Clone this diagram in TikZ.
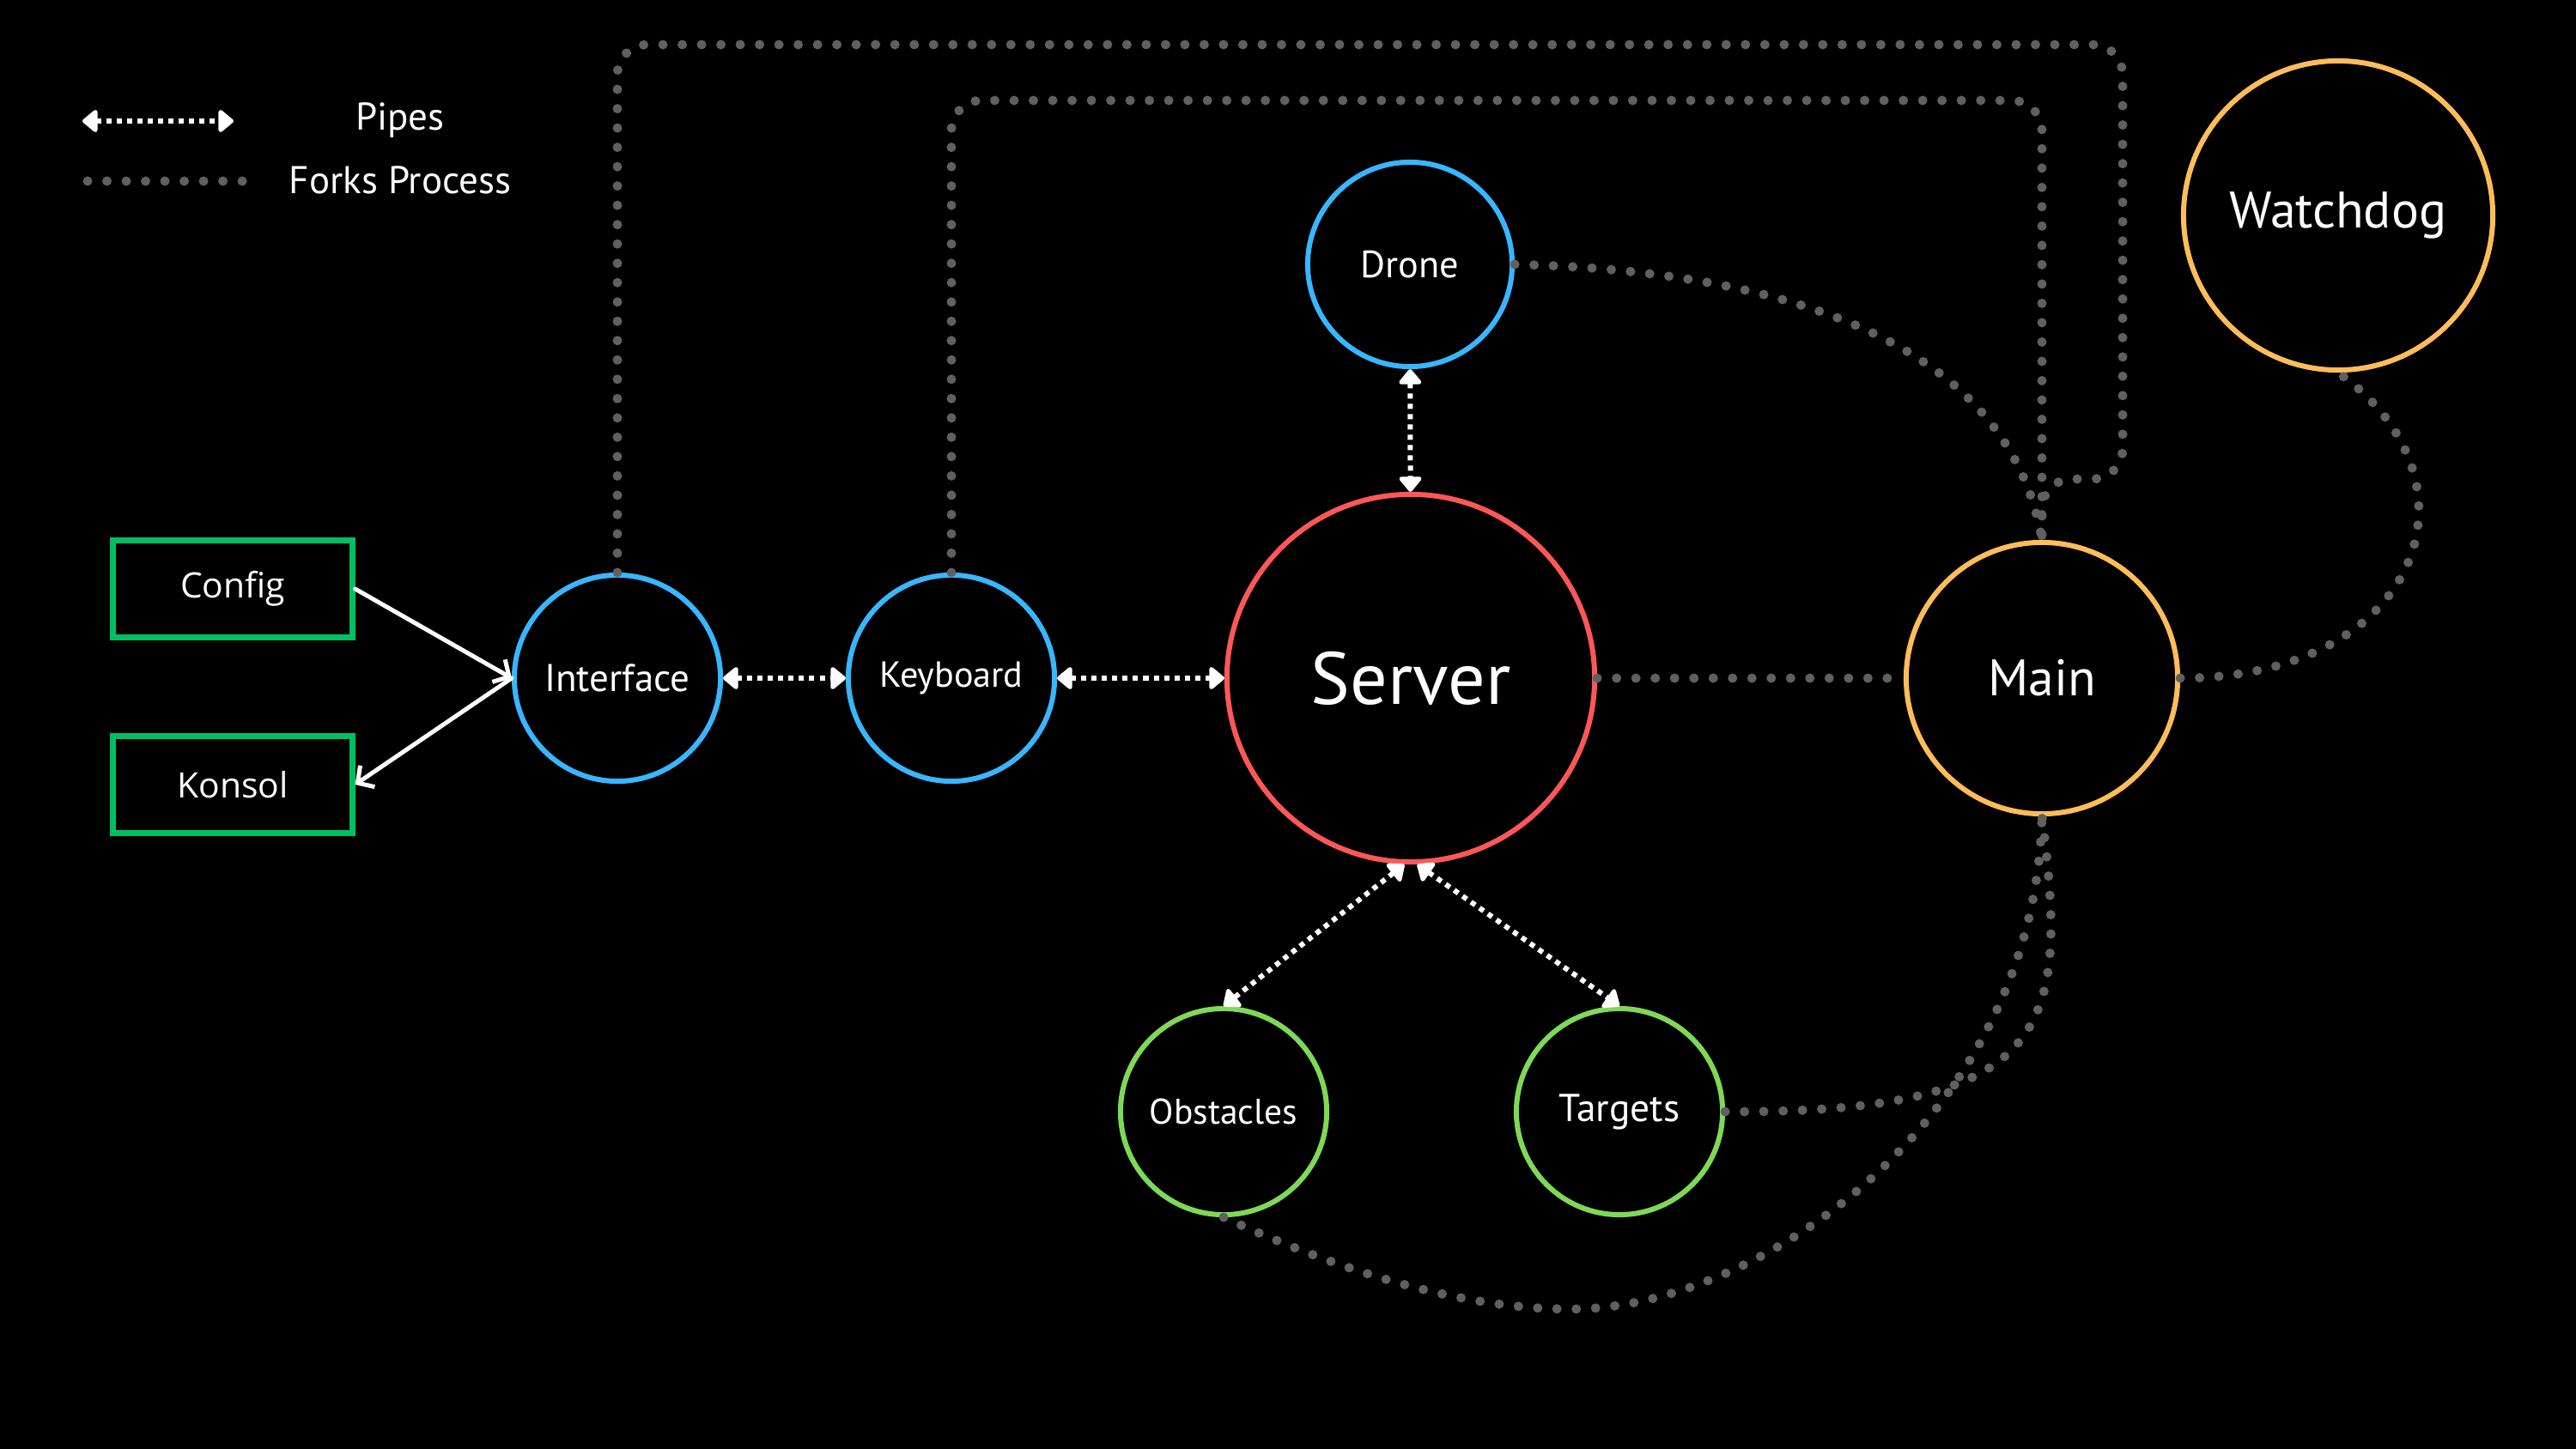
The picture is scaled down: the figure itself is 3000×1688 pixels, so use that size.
\documentclass[tikz,border=0pt]{standalone}
\usepackage{fontspec}
\setmainfont{PT Sans}
\newfontfamily\boxfont{Open Sans}
\usetikzlibrary{arrows.meta}

\definecolor{procblue}{HTML}{38B6FF}
\definecolor{serverred}{HTML}{FF5757}
\definecolor{mainorange}{HTML}{FFBD59}
\definecolor{childgreen}{HTML}{7ED957}
\definecolor{filegreen}{HTML}{00BF63}
\definecolor{forkgray}{HTML}{606060}

\tikzset{
    proc/.style={circle, draw, line width=0.06cm, text=white, inner sep=0pt},
    small proc/.style={proc, minimum size=2.4cm},
    file/.style={rectangle, draw=filegreen, line width=0.07cm, minimum width=2.78cm,
        minimum height=1.13cm, text=white, font=\boxfont\fontsize{11.6}{14}\selectfont},
    legend/.style={text=white, font=\fontsize{12.8}{15}\selectfont},
    pipe/.style={white, line width=0.06cm, dash pattern=on 0.06cm off 0.06cm,
        {Triangle[round,length=0.19cm,width=0.3cm]}-{Triangle[round,length=0.19cm,width=0.3cm]}},
    fork/.style={forkgray, line width=0.11cm, line cap=round, dash pattern=on 0pt off 0.225cm},
    flow/.style={white, line width=0.05cm, line cap=round, -{Straight Barb[length=0.14cm,width=0.3cm]}}
}

\begin{document}
\begin{tikzpicture}[x=0.01cm, y=-0.01cm]
    \fill[black] (0,0) rectangle (3000,1688);
    \useasboundingbox (0,0) rectangle (3000,1688);

    \coordinate (pipe start) at (96,141);
    \coordinate (pipe end) at (272,141);
    \coordinate (fork start) at (102,211);
    \coordinate (fork end) at (283,211);
    \draw[pipe] (pipe start) -- (pipe end);
    \draw[fork] (fork start) -- (fork end);
    \node[legend] (Pipes label) at (466,140) {Pipes};
    \node[legend] (Forks label) at (466,210) {Forks Process};

    \node[file] (Config node) at (271,686) {Config};
    \node[file] (Konsol node) at (271,914) {Konsol};

    \node[small proc, draw=procblue, font=\fontsize{12.8}{15}\selectfont] (Interface node) at (719,790) {Interface};
    \node[small proc, draw=procblue, font=\fontsize{12}{15}\selectfont] (Keyboard node) at (1108,790) {Keyboard};
    \node[proc, draw=serverred, minimum size=4.28cm, font=\fontsize{24.5}{28}\selectfont] (Server node) at (1643,790) {Server};
    \node[small proc, draw=procblue, minimum size=2.38cm, font=\fontsize{12.6}{15}\selectfont] (Drone node) at (1642,308) {Drone};
    \node[small proc, draw=childgreen, font=\fontsize{11.8}{15}\selectfont] (Obstacles node) at (1425,1295) {Obstacles};
    \node[small proc, draw=childgreen, font=\fontsize{12.9}{15}\selectfont] (Targets node) at (1886,1295) {Targets};
    \node[proc, draw=mainorange, minimum size=3.16cm, font=\fontsize{17}{20}\selectfont] (Main node) at (2378,790) {Main};
    \node[proc, draw=mainorange, minimum size=3.6cm, font=\fontsize{17}{20}\selectfont] (Watchdog node) at (2723,251) {Watchdog};

    \draw[flow] (Config node.east) -- (Interface node.west);
    \draw[flow] (Interface node.west) -- (Konsol node.east);

    \draw[pipe] (Interface node) -- (Keyboard node);
    \draw[pipe] (Keyboard node) -- (Server node);
    \draw[pipe] (Drone node) -- (Server node);
    \draw[pipe] (Server node.268) -- (Obstacles node.north);
    \draw[pipe] (Server node.272) -- (Targets node.north);

    \draw[fork, rounded corners=0.35cm] (Interface node.north) -- (719,52) -- (2472,52) -- (2472,558) -- (2378,558) -- (Main node.north);
    \draw[fork, rounded corners=0.35cm] (Keyboard node.north) -- (1108,117) -- (2378,117) -- (Main node.north);
    \draw[fork] (Drone node.east) .. controls (2080,315) and (2340,400) .. (Main node.north);
    \draw[fork] (Server node.east) -- (Main node.west);
    \draw[fork] (Main node.east) .. controls (2820,790) and (2900,560) .. (Watchdog node.south);
    \draw[fork] (Targets node.east) .. controls (2390,1297) and (2410,1200) .. (Main node.south);
    \draw[fork] (Obstacles node.south) .. controls (1560,1480) and (1700,1525) .. (1830,1525)
        .. controls (2050,1525) and (2370,1300) .. (Main node.south);
\end{tikzpicture}
\end{document}
